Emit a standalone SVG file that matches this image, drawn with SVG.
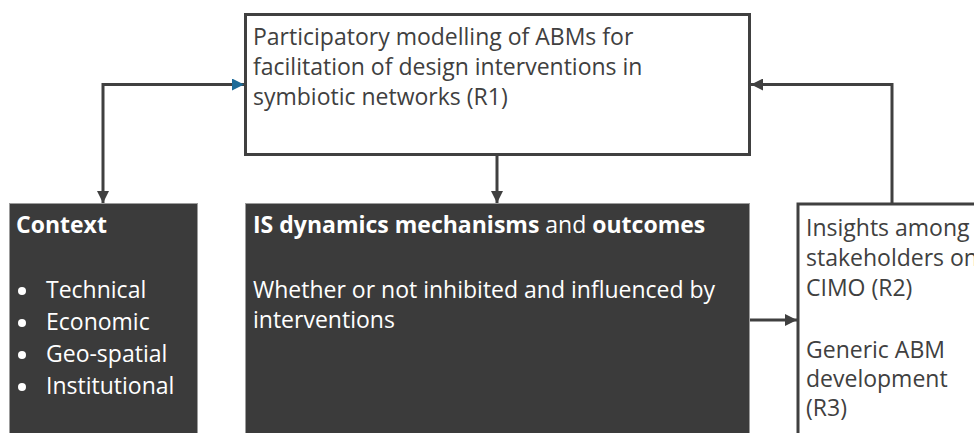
<svg xmlns="http://www.w3.org/2000/svg" width="974" height="433" viewBox="0 0 974 433">
  <style>
    text { font-family: "Open Sans", "Noto Sans", "Liberation Sans", sans-serif; font-size: 23px; }
    .dark-text { fill: #404040; }
    .light-text { fill: #ffffff; }
    .b { font-weight: bold; }
    .outline { fill: #ffffff; stroke: #404040; stroke-width: 3; }
    .solid { fill: #3b3b3b; stroke: #9c9c9c; stroke-width: 1; }
    .link { fill: none; stroke: #404040; stroke-width: 3; }
  </style>
  <defs>
    <marker id="arrow" viewBox="0 0 12 12" refX="12" refY="6" markerWidth="12" markerHeight="12" markerUnits="userSpaceOnUse" orient="auto-start-reverse">
      <path d="M0,0 L12,6 L0,12 Z" fill="#404040"/>
    </marker>
    <marker id="arrow-blue" viewBox="0 0 12 12" refX="12" refY="6" markerWidth="12" markerHeight="12" markerUnits="userSpaceOnUse" orient="auto">
      <path d="M0,0 L12,6 L0,12 Z" fill="#1b6a98"/>
    </marker>
  </defs>

  <!-- top: participatory modelling -->
  <g id="node-r1">
    <rect class="outline" x="245.5" y="14.5" width="504" height="140"/>
    <text class="dark-text" x="253" y="45">Participatory modelling of ABMs for</text>
    <text class="dark-text" x="253" y="75">facilitation of design interventions in</text>
    <text class="dark-text" x="253" y="105">symbiotic networks (R1)</text>
  </g>

  <!-- context -->
  <g id="node-context">
    <rect class="solid" x="9.5" y="203.5" width="188" height="240"/>
    <text class="light-text b" x="16" y="233">Context</text>
    <circle cx="22" cy="291" r="4" fill="#ffffff"/>
    <circle cx="22" cy="323" r="4" fill="#ffffff"/>
    <circle cx="22" cy="355" r="4" fill="#ffffff"/>
    <circle cx="22" cy="387" r="4" fill="#ffffff"/>
    <text class="light-text" x="46" y="298">Technical</text>
    <text class="light-text" x="46" y="330">Economic</text>
    <text class="light-text" x="46" y="362">Geo-spatial</text>
    <text class="light-text" x="46" y="394">Institutional</text>
  </g>

  <!-- IS dynamics -->
  <g id="node-dynamics">
    <rect class="solid" x="245.5" y="203.5" width="504" height="240"/>
    <text class="light-text" x="253" y="233"><tspan class="b">IS dynamics mechanisms</tspan> and <tspan class="b">outcomes</tspan></text>
    <text class="light-text" x="253" y="298">Whether or not inhibited and influenced by</text>
    <text class="light-text" x="253" y="328">interventions</text>
  </g>

  <!-- insights / generic ABM -->
  <g id="node-insights">
    <rect class="outline" x="798" y="204" width="200" height="250"/>
    <text class="dark-text" x="806" y="236">Insights among</text>
    <text class="dark-text" x="806" y="266">stakeholders on</text>
    <text class="dark-text" x="806" y="296">CIMO (R2)</text>
    <text class="dark-text" x="806" y="358">Generic ABM</text>
    <text class="dark-text" x="806" y="387">development</text>
    <text class="dark-text" x="806" y="416">(R3)</text>
  </g>

  <g id="connectors">
    <path class="link" d="M103,203 L103,84.5 L244,84.5" marker-start="url(#arrow)" marker-end="url(#arrow-blue)"/>
    <path class="link" d="M497,156 L497,203" marker-end="url(#arrow)"/>
    <path class="link" d="M892,203 L892,84.5 L751,84.5" marker-end="url(#arrow)"/>
    <path class="link" d="M750,320 L797,320" marker-end="url(#arrow)"/>
  </g>
</svg>
